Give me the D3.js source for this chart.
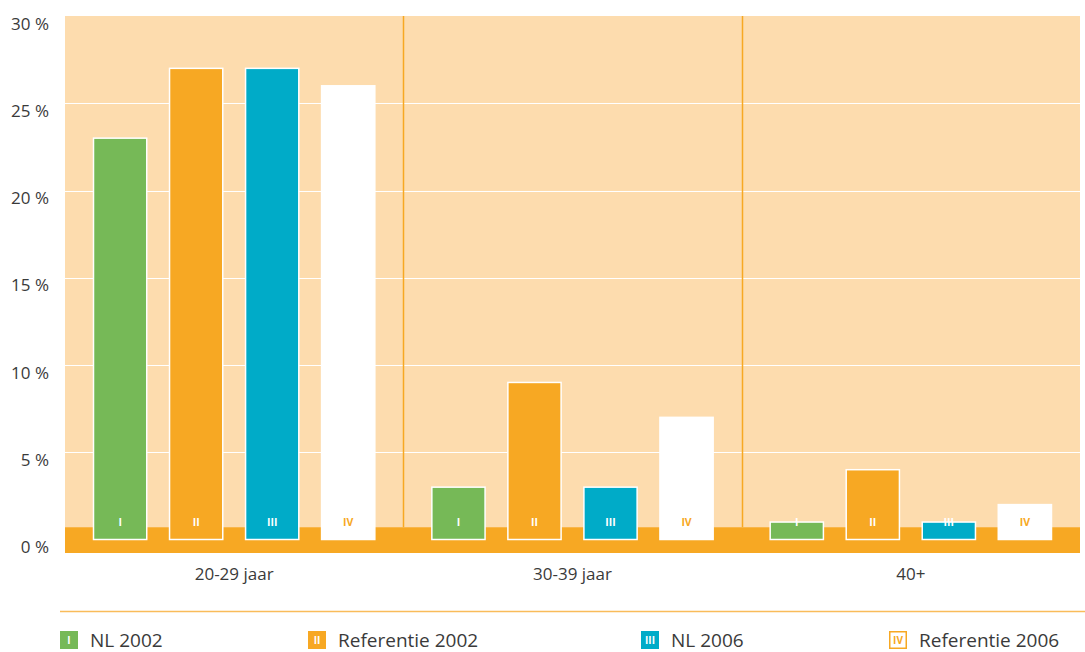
<!DOCTYPE html>
<html>
<head>
<meta charset="utf-8">
<script src="https://cdn.jsdelivr.net/npm/d3@7"></script>
<style>
  body { margin: 0; background: #fff; }
  text { font-family: 'Open Sans', 'Noto Sans', sans-serif; fill: #3a3a3a; }
</style>
</head>
<body>
<svg id="chart" width="1085" height="652"></svg>
<script>
// data
const groups = ['20-29 jaar', '30-39 jaar', '40+'];
const series = ['NL 2002', 'Referentie 2002', 'NL 2006', 'Referentie 2006'];
const numerals = ['I', 'II', 'III', 'IV'];
const nl2002 = [23, 3, 1];
const ref2002 = [27, 9, 4];
const nl2006 = [27, 3, 1];
const ref2006 = [26, 7, 2];
const yTicks = [0, 5, 10, 15, 20, 25, 30];

const values = [nl2002, ref2002, nl2006, ref2006];
const fills = ['#76b957', '#f7a823', '#00abc8', '#ffffff'];
const labelFills = ['#ffffff', '#ffffff', '#ffffff', '#f7a823'];
const orange = '#f7a823';

// sizes
const W = 1085;
const pLeft = 65, pRight = 1080, pTop = 16, zeroY = 539.5;

const svg = d3.select('#chart');

const y = d3.scaleLinear().domain([0, 30]).range([zeroY, pTop]);
const x0 = d3.scaleBand().domain(groups).range([pLeft, pRight]);
const x1 = d3.scaleBand().domain(series).range([0, x0.bandwidth()])
  .paddingInner(0.3).paddingOuter(0.375);

// background
svg.append('rect')
  .attr('x', pLeft).attr('y', pTop)
  .attr('width', pRight - pLeft).attr('height', zeroY - pTop)
  .attr('fill', '#fddcae');

// gridlines
svg.append('g')
  .selectAll('line')
  .data(yTicks.filter((d) => d > 0 && d < 30))
  .join('line')
  .attr('x1', pLeft).attr('x2', pRight)
  .attr('y1', (d) => Math.round(y(d)) + 0.5)
  .attr('y2', (d) => Math.round(y(d)) + 0.5)
  .attr('stroke', '#fff').attr('stroke-width', 1.2);

// group separators
svg.append('g')
  .selectAll('line')
  .data(groups.slice(1))
  .join('line')
  .attr('x1', (d) => Math.round(x0(d)) + 0.5)
  .attr('x2', (d) => Math.round(x0(d)) + 0.5)
  .attr('y1', pTop).attr('y2', y(0.7))
  .attr('stroke', orange).attr('stroke-width', 1.5);

// orange base band
svg.append('rect')
  .attr('x', pLeft).attr('y', y(0.7))
  .attr('width', pRight - pLeft).attr('height', 553 - y(0.7))
  .attr('fill', orange);

// bars
const gGroups = svg.append('g')
  .selectAll('g')
  .data(groups)
  .join('g')
  .attr('transform', (d) => `translate(${x0(d)},0)`);

gGroups.selectAll('rect')
  .data((g, gi) => series.map((s, si) => ({ s, si, v: values[si][gi] })))
  .join('rect')
  .attr('x', (d) => x1(d.s))
  .attr('y', (d) => y(d.v))
  .attr('width', x1.bandwidth())
  .attr('height', (d) => y(0) - y(d.v))
  .attr('fill', (d) => fills[d.si])
  .attr('stroke', '#fff').attr('stroke-width', 1.5);

gGroups.selectAll('text')
  .data((g, gi) => series.map((s, si) => ({ s, si })))
  .join('text')
  .attr('x', (d) => x1(d.s) + x1.bandwidth() / 2)
  .attr('y', 526)
  .attr('text-anchor', 'middle')
  .style('font-size', '10.5px')
  .style('font-weight', 'bold')
  .style('fill', (d) => labelFills[d.si])
  .text((d) => numerals[d.si]);

// y axis labels
svg.append('g')
  .selectAll('text')
  .data(yTicks)
  .join('text')
  .attr('x', 49)
  .attr('y', (d) => y(d) + 13.5)
  .attr('text-anchor', 'end')
  .style('font-size', '17px')
  .text((d) => `${d} %`);

// x labels
svg.append('g')
  .selectAll('text')
  .data(groups)
  .join('text')
  .attr('x', (d) => x0(d) + x0.bandwidth() / 2)
  .attr('y', 580)
  .attr('text-anchor', 'middle')
  .style('font-size', '17px')
  .text((d) => d);

// legend rule
svg.append('line')
  .attr('x1', 60).attr('x2', W)
  .attr('y1', 611.5).attr('y2', 611.5)
  .attr('stroke', '#f9bc5a').attr('stroke-width', 1.5);

// legend
const legendX = [60, 308, 641, 889];
const leg = svg.append('g')
  .selectAll('g')
  .data(series)
  .join('g')
  .attr('transform', (d, i) => `translate(${legendX[i]},631)`);

leg.append('rect')
  .attr('x', (d, i) => (i === 3 ? 0.75 : 0))
  .attr('y', (d, i) => (i === 3 ? 0.75 : 0))
  .attr('width', (d, i) => (i === 3 ? 16.5 : 18))
  .attr('height', (d, i) => (i === 3 ? 16.5 : 18))
  .attr('fill', (d, i) => fills[i])
  .attr('stroke', (d, i) => (i === 3 ? orange : 'none'))
  .attr('stroke-width', 1.5);

leg.append('text')
  .attr('x', 9).attr('y', 13)
  .attr('text-anchor', 'middle')
  .style('font-size', '10px')
  .style('font-weight', 'bold')
  .style('fill', (d, i) => labelFills[i])
  .text((d, i) => numerals[i]);

leg.append('text')
  .attr('x', 30).attr('y', 15.5)
  .style('font-size', '19px')
  .text((d) => d);
</script>
</body>
</html>
